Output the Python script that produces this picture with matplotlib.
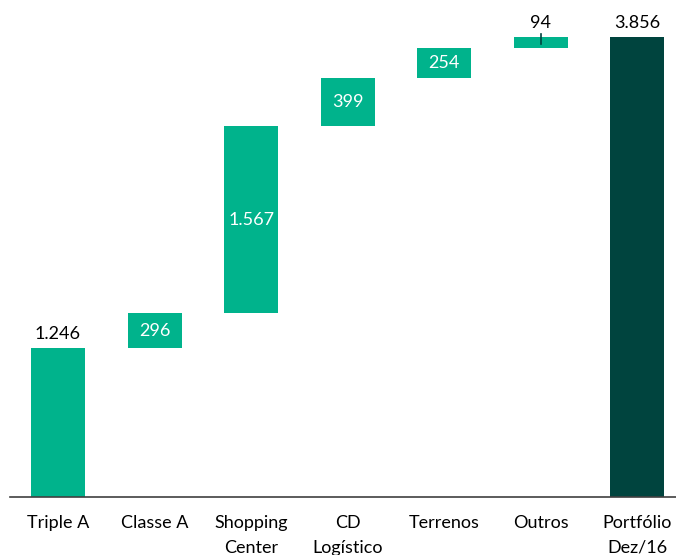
import matplotlib.pyplot as plt

# Portfolio composition waterfall (R$ mm)
categories = ["Triple A", "Classe A", "Shopping\nCenter", "CD\nLogístico",
              "Terrenos", "Outros", "Portfólio\nDez/16"]
steps = [1246, 296, 1567, 399, 254, 94]
total = 3856
value_labels = ["1.246", "296", "1.567", "399", "254", "94", "3.856"]

TEAL = "#00B38C"
DARK = "#00443E"

plt.rcParams["font.family"] = ["Lato", "DejaVu Sans"]

fig = plt.figure(figsize=(6.76, 5.55), dpi=100)
ax = fig.add_axes([10 / 676, 58 / 555, 666 / 676, 497 / 555])

# floating bars start where the previous step ended
bottoms = []
running = 0
for v in steps:
    bottoms.append(running)
    running += v
heights = steps + [total]
bottoms = bottoms + [0]
colors = [TEAL] * len(steps) + [DARK]

x = list(range(len(categories)))
ax.bar(x, heights, bottom=bottoms, width=0.56, color=colors)

for i, (h, b, lab) in enumerate(zip(heights, bottoms, value_labels)):
    top = b + h
    if i in (0, 5, 6):
        ax.text(i, top + 50, lab, ha="center", va="bottom", fontsize=13,
                color="black")
    else:
        ax.text(i, b + h / 2, lab, ha="center", va="center", fontsize=13,
                color="white")

# short leader from the small "Outros" label to its bar
ax.plot([5, 5], [bottoms[5] + heights[5] - 60, bottoms[5] + heights[5] + 25],
        color=DARK, linewidth=1.2)

ax.set_xlim(-0.497, 6.40)
ax.set_ylim(0, 4166)
ax.set_yticks([])
ax.set_xticks(x)
ax.set_xticklabels(categories, fontsize=13, linespacing=1.65)
ax.tick_params(axis="x", length=0, pad=13)
for side in ("top", "right", "left"):
    ax.spines[side].set_visible(False)
ax.spines["bottom"].set_color("#404040")
ax.spines["bottom"].set_linewidth(1.2)

fig.savefig("out.png", dpi=100)
